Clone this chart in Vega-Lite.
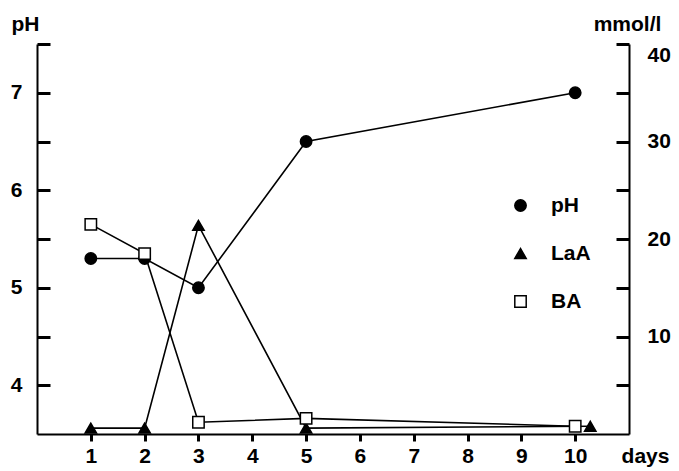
{
  "$schema": "https://vega.github.io/schema/vega-lite/v6.json",
  "width": 592,
  "height": 390,
  "autosize": {"type": "none"},
  "padding": {"left": 37, "top": 44, "right": 50, "bottom": 37},
  "config": {
    "view": {"stroke": null},
    "legend": {
      "labelFont": "Liberation Sans",
      "labelFontSize": 21,
      "labelFontWeight": "bold",
      "labelColor": "black"
    }
  },
  "data": {
    "values": [
      {"day": 1, "series": "pH", "value": 5.3},
      {"day": 2, "series": "pH", "value": 5.3},
      {"day": 3, "series": "pH", "value": 5.0},
      {"day": 5, "series": "pH", "value": 6.5},
      {"day": 10, "series": "pH", "value": 7.0},
      {"day": 1, "series": "LaA", "value": 0.6},
      {"day": 2, "series": "LaA", "value": 0.6},
      {"day": 3, "series": "LaA", "value": 21.4},
      {"day": 5, "series": "LaA", "value": 0.6},
      {"day": 10.28, "series": "LaA", "value": 0.8},
      {"day": 1, "series": "BA", "value": 21.5},
      {"day": 2, "series": "BA", "value": 18.5},
      {"day": 3, "series": "BA", "value": 1.2},
      {"day": 5, "series": "BA", "value": 1.6},
      {"day": 10, "series": "BA", "value": 0.8}
    ]
  },
  "encoding": {
    "x": {
      "field": "day",
      "type": "quantitative",
      "scale": {"domain": [0, 11], "nice": false, "zero": false},
      "axis": {
        "values": [1, 2, 3, 4, 5, 6, 7, 8, 9, 10],
        "grid": false,
        "zindex": 1,
        "domainColor": "black",
        "domainWidth": 2,
        "ticks": true,
        "tickSize": 7,
        "tickColor": "#000000",
        "tickOpacity": 1,
        "tickWidth": 3,
        "labelFont": "Liberation Sans",
        "labelFontSize": 21,
        "labelFontWeight": "bold",
        "labelColor": "black",
        "labelPadding": 21,
        "labelBaseline": "alphabetic",
        "title": "days",
        "titleFont": "Liberation Sans",
        "titleFontSize": 21,
        "titleFontWeight": "bold",
        "titleColor": "black",
        "titleX": 608,
        "titleY": 28,
        "titleBaseline": "alphabetic",
        "titleAlign": "center"
      }
    }
  },
  "layer": [
    {
      "transform": [{"filter": "datum.series === 'pH'"}],
      "encoding": {
        "y": {
          "field": "value",
          "type": "quantitative",
          "scale": {"domain": [3.5, 7.5], "nice": false, "zero": false},
          "axis": {
            "orient": "left",
            "values": [4, 4.5, 5, 5.5, 6, 6.5, 7, 7.5],
            "grid": false,
            "zindex": 1,
            "domainColor": "black",
            "domainWidth": 2,
            "labelExpr": "datum.value % 1 === 0 && datum.value < 7.5 ? format(datum.value, 'd') : ''",
            "ticks": true,
            "tickSize": -13,
            "tickColor": "#000000",
            "tickOpacity": 1,
            "tickWidth": 3,
            "labelFont": "Liberation Sans",
            "labelFontSize": 21,
            "labelFontWeight": "bold",
            "labelColor": "black",
            "labelPadding": 28,
            "title": "pH",
            "titleFont": "Liberation Sans",
            "titleFontSize": 21,
            "titleFontWeight": "bold",
            "titleColor": "black",
            "titleAngle": 0,
            "titleX": -12,
            "titleY": -14,
            "titleAlign": "center",
            "titleBaseline": "alphabetic"
          }
        }
      },
      "layer": [
        {"mark": {"type": "line", "color": "black", "strokeWidth": 1.6}},
        {
          "mark": {"type": "point", "filled": true, "stroke": "black", "strokeWidth": 1.5, "opacity": 1, "size": 130},
          "encoding": {
            "shape": {"field": "series", "type": "nominal", "scale": {"domain": ["pH", "LaA", "BA"], "range": ["circle", "triangle-up", "square"]},
              "legend": {"orient": "none", "legendX": 473, "legendY": 151, "title": null, "symbolSize": 130, "symbolStrokeWidth": 1.5, "rowPadding": 26, "labelOffset": 20, "padding": 0}},
            "fill": {"field": "series", "type": "nominal", "scale": {"domain": ["pH", "LaA", "BA"], "range": ["black", "black", "white"]},
              "legend": {"orient": "none", "legendX": 473, "legendY": 151, "title": null, "symbolSize": 130, "symbolStrokeWidth": 1.5, "rowPadding": 26, "labelOffset": 20, "padding": 0}},
            "stroke": {"field": "series", "type": "nominal", "scale": {"domain": ["pH", "LaA", "BA"], "range": ["black", "black", "black"]},
              "legend": {"orient": "none", "legendX": 473, "legendY": 151, "title": null, "symbolSize": 130, "symbolStrokeWidth": 1.5, "rowPadding": 26, "labelOffset": 20, "padding": 0}}
          }
        }
      ]
    },
    {
      "transform": [{"filter": "datum.series !== 'pH'"}],
      "encoding": {
        "y": {
          "field": "value",
          "type": "quantitative",
          "scale": {"domain": [0, 40], "nice": false, "zero": false},
          "axis": {
            "orient": "right",
            "values": [5, 10, 15, 20, 25, 30, 35, 40],
            "grid": false,
            "zindex": 1,
            "domainColor": "black",
            "domainWidth": 2,
            "labelExpr": "datum.value % 10 === 0 ? datum.label : ''",
            "ticks": true,
            "tickSize": -13,
            "tickColor": "#000000",
            "tickOpacity": 1,
            "tickWidth": 3,
            "labelFont": "Liberation Sans",
            "labelFontSize": 21,
            "labelFontWeight": "bold",
            "labelColor": "black",
            "labelPadding": 31,
            "labelFlush": true,
            "title": "mmol/l",
            "titleFont": "Liberation Sans",
            "titleFontSize": 21,
            "titleFontWeight": "bold",
            "titleColor": "black",
            "titleAngle": 0,
            "titleX": -2,
            "titleY": -14,
            "titleAlign": "center",
            "titleBaseline": "alphabetic"
          }
        }
      },
      "layer": [
        {"mark": {"type": "line", "color": "black", "strokeWidth": 1.6}, "encoding": {"detail": {"field": "series"}}},
        {
          "mark": {"type": "point", "filled": true, "stroke": "black", "strokeWidth": 1.5, "opacity": 1, "size": 130},
          "encoding": {
            "shape": {"field": "series", "type": "nominal", "scale": {"domain": ["pH", "LaA", "BA"], "range": ["circle", "triangle-up", "square"]},
              "legend": {"orient": "none", "legendX": 473, "legendY": 151, "title": null, "symbolSize": 130, "symbolStrokeWidth": 1.5, "rowPadding": 26, "labelOffset": 20, "padding": 0}},
            "fill": {"field": "series", "type": "nominal", "scale": {"domain": ["pH", "LaA", "BA"], "range": ["black", "black", "white"]},
              "legend": {"orient": "none", "legendX": 473, "legendY": 151, "title": null, "symbolSize": 130, "symbolStrokeWidth": 1.5, "rowPadding": 26, "labelOffset": 20, "padding": 0}},
            "stroke": {"field": "series", "type": "nominal", "scale": {"domain": ["pH", "LaA", "BA"], "range": ["black", "black", "black"]},
              "legend": {"orient": "none", "legendX": 473, "legendY": 151, "title": null, "symbolSize": 130, "symbolStrokeWidth": 1.5, "rowPadding": 26, "labelOffset": 20, "padding": 0}}
          }
        }
      ]
    }
  ],
  "resolve": {"scale": {"y": "independent"}}
}
